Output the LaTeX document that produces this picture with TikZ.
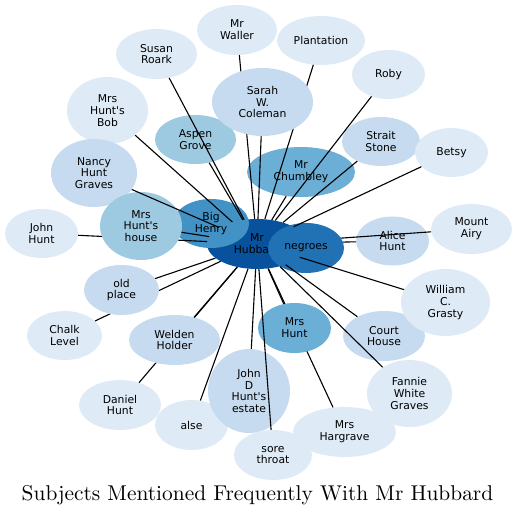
\documentclass[tikz,border=0pt]{standalone}
\usepackage{fontspec}
\newfontfamily\nodefont{DejaVu Sans}
\newfontfamily\titlefont[Extension=.otf]{lmroman10-regular}
\usetikzlibrary{shapes.geometric}
\definecolor{bA}{HTML}{DEEBF7}
\definecolor{bB}{HTML}{C6DBEF}
\definecolor{bC}{HTML}{9ECAE1}
\definecolor{bD}{HTML}{6BAED6}
\definecolor{bE}{HTML}{4292C6}
\definecolor{bF}{HTML}{2171B5}
\definecolor{bG}{HTML}{08519C}
\begin{document}
\begin{tikzpicture}[x=1pt,y=-1pt,
  nd/.style={ellipse, inner sep=0pt, draw=none, align=center, text=black,
    font=\nodefont\fontsize{10.8}{11.8}\selectfont},
  lk/.style={line width=1.1pt, black},
  ttl/.style={anchor=base, inner sep=0pt, font=\titlefont\fontsize{21.4}{25}\selectfont}
]
\useasboundingbox (0,0) rectangle (517,516);

% centre node
\node[nd,fill=bG,minimum width=100pt,minimum height=50pt] (hub) at (257,244) {Mr\\Hubbard};

% first group of nodes
\node[nd,fill=bA,minimum width=80pt,minimum height=50pt] (waller) at (237,30) {Mr\\Waller};
\node[nd,fill=bA,minimum width=81pt,minimum height=50pt] (susan) at (156.5,54) {Susan\\Roark};
\node[nd,fill=bA,minimum width=88pt,minimum height=49pt] (plant) at (321,40.5) {Plantation};
\node[nd,fill=bA,minimum width=73pt,minimum height=49pt] (roby) at (388.5,74.5) {Roby};
\node[nd,fill=bA,minimum width=81pt,minimum height=67pt] (bob) at (107.5,110.5) {Mrs\\Hunt's\\Bob};
\node[nd,fill=bC,minimum width=81pt,minimum height=49pt] (aspen) at (195.5,139.5) {Aspen\\Grove};
\node[nd,fill=bB,minimum width=78pt,minimum height=49pt] (strait) at (381,141.5) {Strait\\Stone};
\node[nd,fill=bA,minimum width=73pt,minimum height=49pt] (betsy) at (451.5,152.5) {Betsy};
\node[nd,fill=bD,minimum width=108pt,minimum height=50pt] (chum) at (301,172) {Mr\\Chumbley};
\node[nd,fill=bB,minimum width=86pt,minimum height=68pt] (nancy) at (94,173) {Nancy\\Hunt\\Graves};
\node[nd,fill=bE,minimum width=76pt,minimum height=49pt] (bigh) at (211,223.5) {Big\\Henry};
\node[nd,fill=bA,minimum width=73pt,minimum height=49pt] (john) at (41.5,233.5) {John\\Hunt};
\node[nd,fill=bB,minimum width=73pt,minimum height=49pt] (alice) at (392.5,241) {Alice\\Hunt};
\node[nd,fill=bA,minimum width=81pt,minimum height=50pt] (airy) at (471.5,229) {Mount\\Airy};
\node[nd,fill=bA,minimum width=75pt,minimum height=49pt] (chalk) at (64.5,335.5) {Chalk\\Level};
\node[nd,fill=bB,minimum width=82pt,minimum height=50pt] (court) at (384,336) {Court\\House};
\node[nd,fill=bA,minimum width=89pt,minimum height=67pt] (grasty) at (445.5,302.5) {William\\C.\\Grasty};
\node[nd,fill=bA,minimum width=82pt,minimum height=50pt] (daniel) at (120,405) {Daniel\\Hunt};
\node[nd,fill=bA,minimum width=73pt,minimum height=50pt] (alse) at (191.5,425) {alse};
\node[nd,fill=bB,minimum width=82pt,minimum height=84pt] (johnd) at (249,391) {John\\D\\Hunt's\\estate};
\node[nd,fill=bA,minimum width=85pt,minimum height=67pt] (fannie) at (409.5,393.5) {Fannie\\White\\Graves};
\node[nd,fill=bA,minimum width=103pt,minimum height=50pt] (harg) at (344.5,432) {Mrs\\Hargrave};
\node[nd,fill=bA,minimum width=78pt,minimum height=50pt] (sore) at (273,455) {sore\\throat};

% connectors that run beneath later nodes
\foreach \t in {waller,plant,john,chalk,daniel,harg,alice,airy}
  \draw[lk] (hub) -- (\t);

% nodes drawn over those connectors
\node[nd,fill=bB,minimum width=101pt,minimum height=68pt] (sarah) at (262.5,102) {Sarah\\W.\\Coleman};
\node[nd,fill=bC,minimum width=82pt,minimum height=68pt] (house) at (141,226) {Mrs\\Hunt's\\house};
\node[nd,fill=bB,minimum width=75pt,minimum height=50pt] (oldp) at (121.5,290) {old\\place};
\node[nd,fill=bB,minimum width=91pt,minimum height=50pt] (welden) at (174.5,340) {Welden\\Holder};
\node[nd,fill=bD,minimum width=73pt,minimum height=50pt] (mrshunt) at (294.5,328) {Mrs\\Hunt};
\node[nd,fill=bF,minimum width=76pt,minimum height=50pt] (negroes) at (306,248) {negroes};

% remaining connectors, on top
\foreach \t in {susan,sarah,roby,strait,betsy,chum,bob,nancy,aspen,house,oldp,welden,alse,johnd,sore,mrshunt,fannie,court,grasty}
  \draw[lk] (hub) -- (\t);

\node[ttl] (title) at (257.5,500) {Subjects Mentioned Frequently With Mr Hubbard};
\end{tikzpicture}
\end{document}
